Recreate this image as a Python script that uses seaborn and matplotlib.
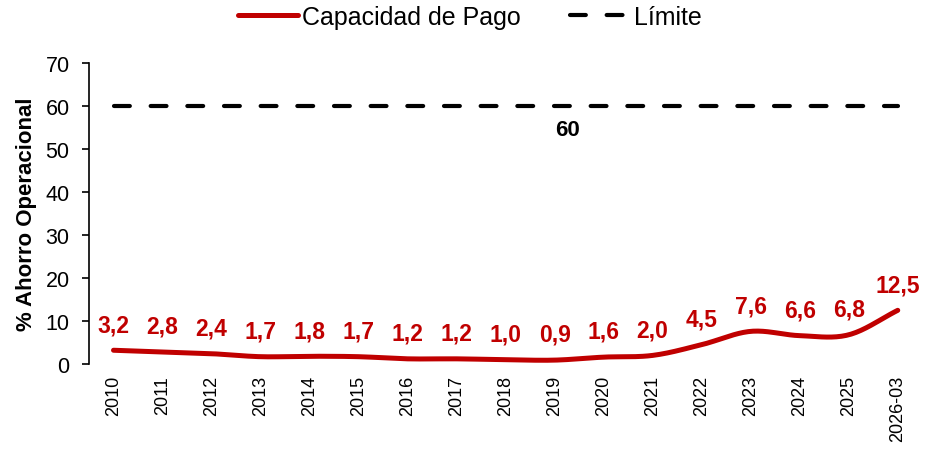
import numpy as np
import pandas as pd
import matplotlib
matplotlib.use("Agg")
import matplotlib.pyplot as plt
import seaborn as sns

# datos
periodos = ["2010", "2011", "2012", "2013", "2014", "2015", "2016", "2017", "2018",
            "2019", "2020", "2021", "2022", "2023", "2024", "2025", "2026-03"]
capacidad = [3.2, 2.8, 2.4, 1.7, 1.8, 1.7, 1.2, 1.2, 1.0, 0.9, 1.6, 2.0, 4.5, 7.6, 6.6, 6.8, 12.5]
limite = 60

rojo = "#C00000"


def suavizar(y, n=20):
    # curva tipo Catmull-Rom (similar a la linea suavizada de Excel)
    y = np.asarray(y, dtype=float)
    p = np.concatenate([[2 * y[0] - y[1]], y, [2 * y[-1] - y[-2]]])
    xs, ys = [], []
    for i in range(len(y) - 1):
        p0, p1, p2, p3 = p[i], p[i + 1], p[i + 2], p[i + 3]
        t = np.linspace(0, 1, n, endpoint=False)
        v = 0.5 * ((2 * p1) + (-p0 + p2) * t + (2 * p0 - 5 * p1 + 4 * p2 - p3) * t ** 2
                   + (-p0 + 3 * p1 - 3 * p2 + p3) * t ** 3)
        xs.extend(i + t)
        ys.extend(v)
    xs.append(len(y) - 1)
    ys.append(y[-1])
    return np.array(xs), np.array(ys)


sns.set_theme(style="white")
plt.rcParams["font.family"] = ["Liberation Sans", "DejaVu Sans"]

fig = plt.figure(figsize=(9.31, 4.52), dpi=100)
ax = fig.add_axes([0.0956, 0.1925, 0.895, 0.665])

xs, ys = suavizar(capacidad)
df_curva = pd.DataFrame({"x": xs, "y": ys})
sns.lineplot(data=df_curva, x="x", y="y", ax=ax, color=rojo, linewidth=3.6,
             label="Capacidad de Pago", sort=False)
ax.lines[-1].set_solid_capstyle("round")

x_idx = np.arange(len(periodos))
df_lim = pd.DataFrame({"x": [x_idx[0], x_idx[-1]], "y": [limite, limite]})
sns.lineplot(data=df_lim, x="x", y="y", ax=ax, color="black", linewidth=3.0,
             label="Límite")
ax.lines[-1].set_dashes([3.8, 5.0])
ax.lines[-1].set_dash_capstyle("round")

for i, v in enumerate(capacidad):
    ax.annotate(f"{v:.1f}".replace(".", ","), (i, v), xytext=(0, 18.5),
                textcoords="offset points", ha="center", va="center",
                color=rojo, fontsize=16.5, fontweight="bold")

ax.text(9.27, limite - 5.3, "60", ha="center", va="center", fontsize=16,
        fontweight="bold", color="black")

ax.set_xlim(-0.5, len(periodos) - 0.5)
ax.set_ylim(0, 70)
ax.set_yticks(range(0, 71, 10))
ax.set_xticks(x_idx)
ax.set_xticklabels(periodos, rotation=90, fontsize=13)
ax.tick_params(axis="y", labelsize=15.5, length=5, width=1.2, direction="out",
               left=True, colors="black", pad=9)
ax.tick_params(axis="x", length=0, pad=8, colors="black")
ax.set_xlabel("")
ax.set_ylabel("% Ahorro Operacional", fontsize=16, fontweight="bold", labelpad=6,
              color="black")

sns.despine(ax=ax, top=True, right=True, bottom=True)
ax.spines["left"].set_color("black")
ax.spines["left"].set_linewidth(1.2)

leg = ax.legend(loc="center", bbox_to_anchor=(0.457, 1.154), ncol=2, frameon=False,
                fontsize=18, handlelength=2.4, columnspacing=2.0, handletextpad=0.15)
for t in leg.get_texts():
    t.set_color("black")

fig.savefig("out.png", dpi=100)
